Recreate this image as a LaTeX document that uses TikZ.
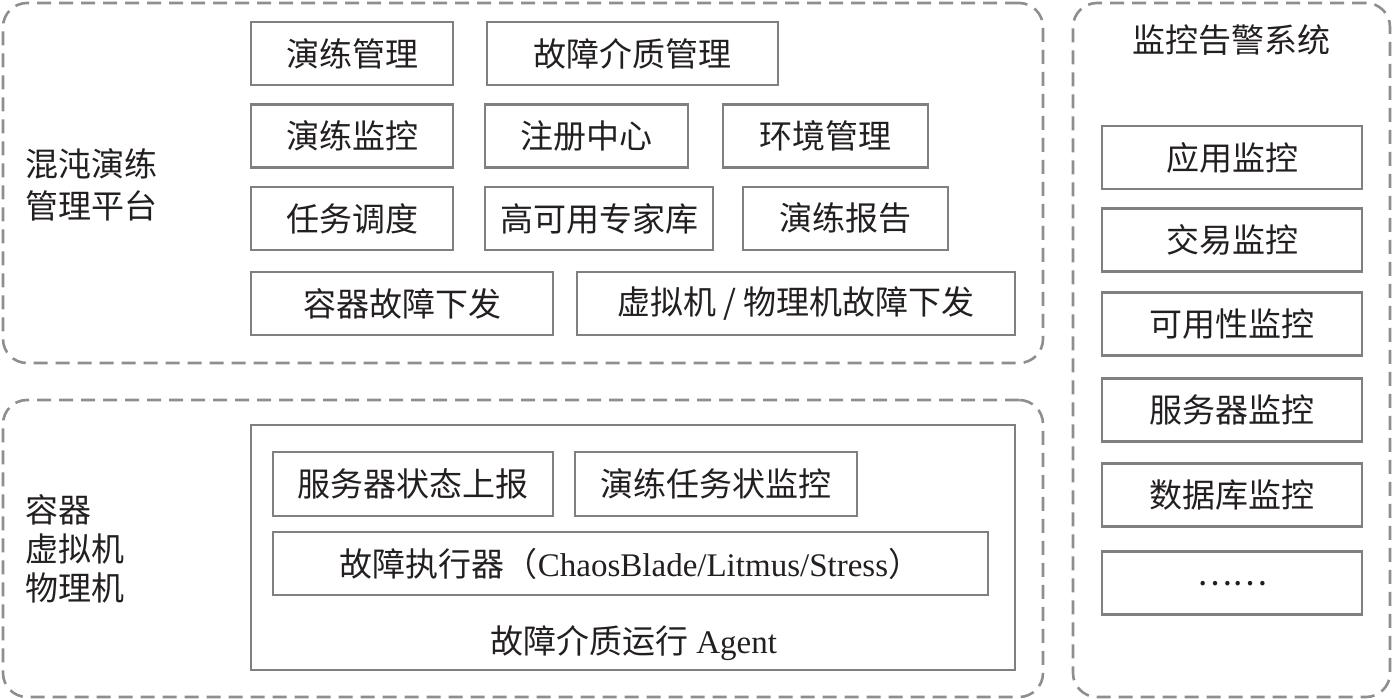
\documentclass[tikz,border=0pt]{standalone}
\usepackage{fontspec}
\setmainfont{Liberation Serif}
\newfontfamily\cjk{Noto Sans CJK SC}
\newcommand\lat[1]{{\rmfamily #1}}
\definecolor{boxgray}{HTML}{808080}
\definecolor{dashgray}{HTML}{8E8E8E}
\definecolor{ink}{HTML}{231F20}
\tikzset{
  module/.style={draw=boxgray, line width=2.2pt, minimum height=63pt, inner sep=0pt, text=ink, font=\cjk\fontsize{33}{38}\selectfont},
  zone/.style={draw=dashgray, line width=2.6pt, dash pattern=on 14pt off 8pt, rounded corners=24pt, inner sep=0pt},
  caption/.style={inner sep=0pt, text=ink, align=left}
}
\begin{document}
\begin{tikzpicture}[x=1pt, y=-1pt]
        \useasboundingbox (0,0) rectangle (1393,699);
        % Dashed zones
        \node (platform) at (523,183) [zone, minimum width=1040, minimum height=360] {};
        \node (runtime) at (523,548.5) [zone, minimum width=1040, minimum height=297] {};
        \node (alarm) at (1231.5,350) [zone, minimum width=317, minimum height=694] {};
        % Platform (top to bottom)
        \node (platlabel) at (25,185) [caption, anchor=west, font=\cjk\fontsize{33}{42}\selectfont] {混沌演练\\管理平台};
        \node (drillmgmt) at (352,53.5) [module, minimum width=202] {演练管理};
        \node (mediummgmt) at (632.5,53.5) [module, minimum width=291] {故障介质管理};
        \node (drillmon) at (352,136) [module, minimum width=202] {演练监控};
        \node (registry) at (586.5,136) [module, minimum width=203] {注册中心};
        \node (envmgmt) at (825.5,136) [module, minimum width=205] {环境管理};
        \node (sched) at (352,218.5) [module, minimum width=202] {任务调度};
        \node (expertlib) at (599,218.5) [module, minimum width=228] {高可用专家库};
        \node (report) at (845.5,218.5) [module, minimum width=205] {演练报告};
        \node (podfault) at (402,303.5) [module, minimum width=302] {容器故障下发};
        \node (vmfault) at (796,303.5) [module, minimum width=438] {虚拟机 / 物理机故障下发};
        % Runtime
        \node (hostlabel) at (25,549) [caption, anchor=west, font=\cjk\fontsize{33}{39}\selectfont] {容器\\虚拟机\\物理机};
        \node (agent) at (633,547.5) [module, minimum width=764, minimum height=245] {};
        \node (agentlabel) at (634,643) [caption, font=\cjk\fontsize{33}{38}\selectfont] {故障介质运行 \lat{Agent}};
        \node (srvreport) at (413,484) [module, minimum width=280, minimum height=64] {服务器状态上报};
        \node (taskmon) at (716,484) [module, minimum width=282, minimum height=64] {演练任务状监控};
        \node (executor) at (630.5,563.5) [module, minimum width=715] {故障执行器（\lat{ChaosBlade/Litmus/Stress}）};
        % Monitoring column
        \node (alarmlabel) at (1231,40) [caption, font=\cjk\fontsize{33}{38}\selectfont] {监控告警系统};
        \node (appmon) at (1232,157.5) [module, minimum width=260] {应用监控};
        \node (trademon) at (1232,240) [module, minimum width=260] {交易监控};
        \node (availmon) at (1232,324) [module, minimum width=260] {可用性监控};
        \node (servermon) at (1232,410) [module, minimum width=260] {服务器监控};
        \node (dbmon) at (1232,495) [module, minimum width=260] {数据库监控};
        \node (moremon) at (1232,583) [module, minimum width=260] {\raisebox{-5pt}{……}};
      \end{tikzpicture}
\end{document}
